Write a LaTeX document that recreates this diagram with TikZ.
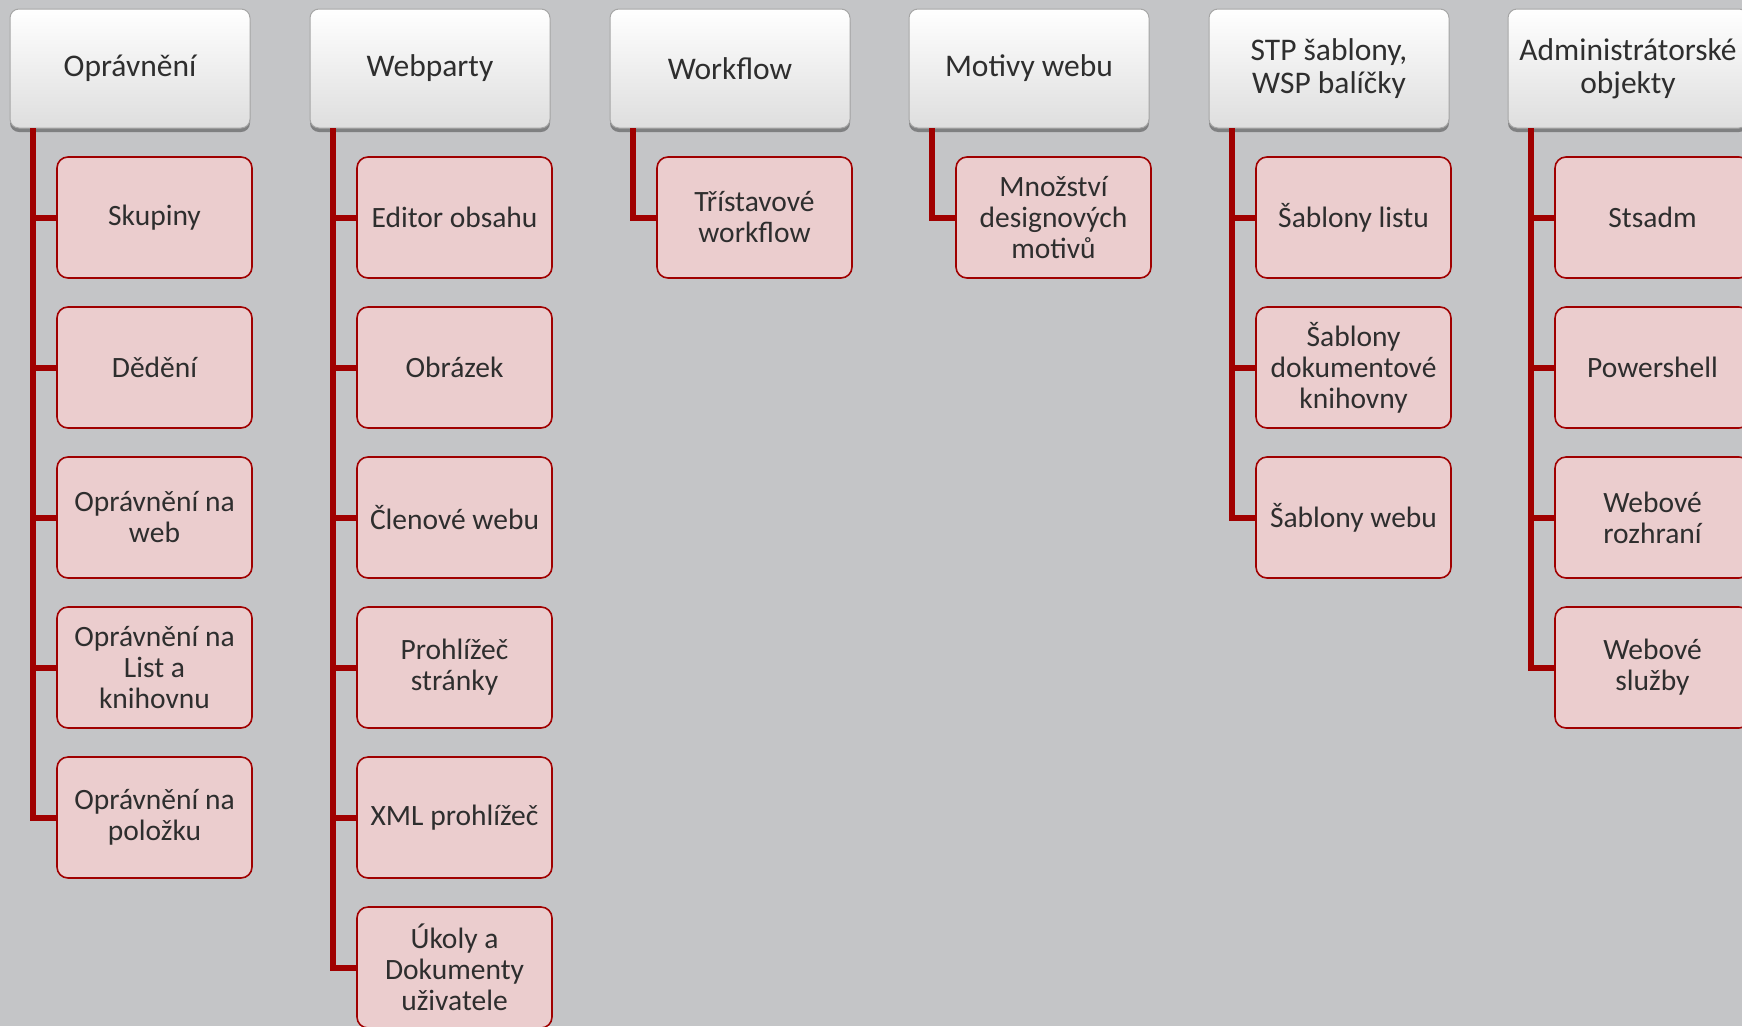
\documentclass[tikz,border=0pt]{standalone}
\usepackage{fontspec}
\setmainfont{Carlito}
\usetikzlibrary{shadows}
\definecolor{bg}{HTML}{C4C5C7}
\definecolor{linered}{HTML}{A00000}
\definecolor{childfill}{HTML}{EBCDCE}
\definecolor{txt}{HTML}{2E2E2E}
\tikzset{
  headbox/.style={draw=gray!70, line width=1pt, rounded corners=9pt,
    top color=white, bottom color=black!13, minimum width=240pt, minimum height=119pt,
    inner sep=0pt, align=center, font=\fontsize{31.5}{33}\selectfont, text=txt,
    drop shadow={shadow xshift=0pt, shadow yshift=-4pt, opacity=0.35, fill=black}},
  childbox/.style={draw=linered, line width=1.6pt, rounded corners=11pt,
    fill=childfill, minimum width=195pt, minimum height=121pt,
    inner sep=0pt, align=center, font=\fontsize{29.5}{31}\selectfont, text=txt},
  conn/.style={draw=linered, line width=6pt, line join=miter, line cap=butt}
}
\begin{document}
\begin{tikzpicture}[x=1pt,y=-1pt]
\fill[bg] (0,0) rectangle (1742,1026);
\useasboundingbox (0,0) rectangle (1742,1026);

% headers
\node[headbox] (h1) at (130,68.5) {Oprávnění};
\node[headbox] (h2) at (430,68.5) {Webparty};
\node[headbox] (h3) at (730,68.5) {Workflow};
\node[headbox] (h4) at (1029,68.5) {Motivy webu};
\node[headbox] (h5) at (1329,68.5) {STP šablony,\\WSP balíčky};
\node[headbox] (h6) at (1628,68.5) {Administrátorské\\objekty};

% trunk coordinates
\coordinate (t1) at (33,128);
\coordinate (t2) at (333,128);
\coordinate (t3) at (633,128);
\coordinate (t4) at (932,128);
\coordinate (t5) at (1232,128);
\coordinate (t6) at (1531,128);

% column 1
\node[childbox] (c1a) at (154.5,217.5) {Skupiny};
\node[childbox] (c1b) at (154.5,367.5) {Dědění};
\node[childbox] (c1c) at (154.5,517.5) {Oprávnění na\\web};
\node[childbox] (c1d) at (154.5,667.5) {Oprávnění na\\List a\\knihovnu};
\node[childbox] (c1e) at (154.5,817.5) {Oprávnění na\\položku};
% column 2
\node[childbox] (c2a) at (454.5,217.5) {Editor obsahu};
\node[childbox] (c2b) at (454.5,367.5) {Obrázek};
\node[childbox] (c2c) at (454.5,517.5) {Členové webu};
\node[childbox] (c2d) at (454.5,667.5) {Prohlížeč\\stránky};
\node[childbox] (c2e) at (454.5,817.5) {XML prohlížeč};
\node[childbox] (c2f) at (454.5,967.5) {Úkoly a\\Dokumenty\\uživatele};
% column 3
\node[childbox] (c3a) at (754.5,217.5) {Třístavové\\workflow};
% column 4
\node[childbox] (c4a) at (1053.5,217.5) {Množství\\designových\\motivů};
% column 5
\node[childbox] (c5a) at (1353.5,217.5) {Šablony listu};
\node[childbox] (c5b) at (1353.5,367.5) {Šablony\\dokumentové\\knihovny};
\node[childbox] (c5c) at (1353.5,517.5) {Šablony webu};
% column 6
\node[childbox] (c6a) at (1652.5,217.5) {Stsadm};
\node[childbox] (c6b) at (1652.5,367.5) {Powershell};
\node[childbox] (c6c) at (1652.5,517.5) {Webové\\rozhraní};
\node[childbox] (c6d) at (1652.5,667.5) {Webové\\služby};

% connectors
\foreach \t/\c in {t1/c1a,t1/c1b,t1/c1c,t1/c1d,t1/c1e,
                   t2/c2a,t2/c2b,t2/c2c,t2/c2d,t2/c2e,t2/c2f,
                   t3/c3a,t4/c4a,t5/c5a,t5/c5b,t5/c5c,
                   t6/c6a,t6/c6b,t6/c6c,t6/c6d}{
  \draw[conn] (\t) |- (\c.west);
}
\end{tikzpicture}
\end{document}
